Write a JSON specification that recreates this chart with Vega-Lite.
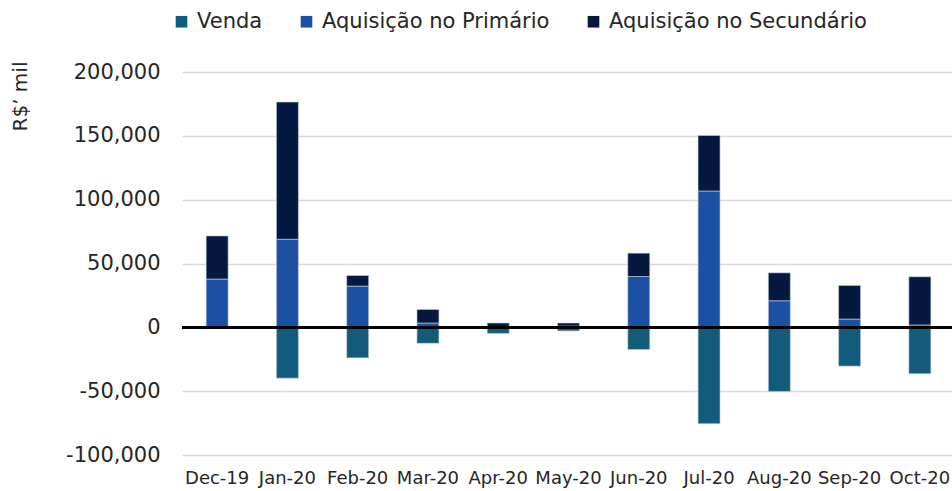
{
  "$schema": "https://vega.github.io/schema/vega-lite/v6.json",
  "width": 773,
  "height": 383,
  "autosize": {"type": "none"},
  "padding": {"left": 182, "top": 72, "right": 0, "bottom": 36},
  "config": {
    "view": {"stroke": null},
    "font": "DejaVu Sans"
  },
  "data": {
    "values": [
      {"mes": "Dec-19", "serie": "Venda", "valor": 0, "ord": 1},
      {"mes": "Dec-19", "serie": "Aquisição no Primário", "valor": 37800, "ord": 2},
      {"mes": "Dec-19", "serie": "Aquisição no Secundário", "valor": 33800, "ord": 3},
      {"mes": "Jan-20", "serie": "Venda", "valor": -39800, "ord": 1},
      {"mes": "Jan-20", "serie": "Aquisição no Primário", "valor": 69000, "ord": 2},
      {"mes": "Jan-20", "serie": "Aquisição no Secundário", "valor": 107500, "ord": 3},
      {"mes": "Feb-20", "serie": "Venda", "valor": -23900, "ord": 1},
      {"mes": "Feb-20", "serie": "Aquisição no Primário", "valor": 32300, "ord": 2},
      {"mes": "Feb-20", "serie": "Aquisição no Secundário", "valor": 8300, "ord": 3},
      {"mes": "Mar-20", "serie": "Venda", "valor": -12500, "ord": 1},
      {"mes": "Mar-20", "serie": "Aquisição no Primário", "valor": 3400, "ord": 2},
      {"mes": "Mar-20", "serie": "Aquisição no Secundário", "valor": 10600, "ord": 3},
      {"mes": "Apr-20", "serie": "Venda", "valor": -4800, "ord": 1},
      {"mes": "Apr-20", "serie": "Aquisição no Primário", "valor": 300, "ord": 2},
      {"mes": "Apr-20", "serie": "Aquisição no Secundário", "valor": 3100, "ord": 3},
      {"mes": "May-20", "serie": "Venda", "valor": -2800, "ord": 1},
      {"mes": "May-20", "serie": "Aquisição no Primário", "valor": 1000, "ord": 2},
      {"mes": "May-20", "serie": "Aquisição no Secundário", "valor": 2400, "ord": 3},
      {"mes": "Jun-20", "serie": "Venda", "valor": -17400, "ord": 1},
      {"mes": "Jun-20", "serie": "Aquisição no Primário", "valor": 39800, "ord": 2},
      {"mes": "Jun-20", "serie": "Aquisição no Secundário", "valor": 18300, "ord": 3},
      {"mes": "Jul-20", "serie": "Venda", "valor": -75500, "ord": 1},
      {"mes": "Jul-20", "serie": "Aquisição no Primário", "valor": 106800, "ord": 2},
      {"mes": "Jul-20", "serie": "Aquisição no Secundário", "valor": 43500, "ord": 3},
      {"mes": "Aug-20", "serie": "Venda", "valor": -50200, "ord": 1},
      {"mes": "Aug-20", "serie": "Aquisição no Primário", "valor": 20800, "ord": 2},
      {"mes": "Aug-20", "serie": "Aquisição no Secundário", "valor": 21900, "ord": 3},
      {"mes": "Sep-20", "serie": "Venda", "valor": -30400, "ord": 1},
      {"mes": "Sep-20", "serie": "Aquisição no Primário", "valor": 6500, "ord": 2},
      {"mes": "Sep-20", "serie": "Aquisição no Secundário", "valor": 26300, "ord": 3},
      {"mes": "Oct-20", "serie": "Venda", "valor": -36400, "ord": 1},
      {"mes": "Oct-20", "serie": "Aquisição no Primário", "valor": 1900, "ord": 2},
      {"mes": "Oct-20", "serie": "Aquisição no Secundário", "valor": 37700, "ord": 3}
    ]
  },
  "layer": [
    {
      "mark": {"type": "bar", "stroke": "#c9d3df", "strokeWidth": 0.6},
      "encoding": {
        "x": {
          "field": "mes",
          "type": "nominal",
          "sort": null,
          "scale": {"paddingInner": 0.687, "paddingOuter": 0.3435},
          "axis": {
            "title": null,
            "labelAngle": 0,
            "labelFontSize": 18,
            "labelColor": "#262626",
            "labelPadding": 14,
            "labelOverlap": false,
            "labelBound": false,
            "ticks": false,
            "domain": false,
            "grid": false
          }
        },
        "y": {
          "field": "valor",
          "type": "quantitative",
          "stack": "zero",
          "scale": {"domain": [-100000, 200000], "nice": false, "zero": false},
          "axis": {
            "title": "R$’ mil",
            "titleFontSize": 20,
            "titleFontWeight": "normal",
            "titleColor": "#262626",
            "titleAngle": -90,
            "titleX": -162,
            "titleY": 24,
            "titleAlign": "center",
            "titleBaseline": "middle",
            "values": [-100000, -50000, 0, 50000, 100000, 150000, 200000],
            "labelExpr": "replace(format(datum.value, ',.0f'), '−', '-')",
            "labelFontSize": 21,
            "labelColor": "#262626",
            "labelPadding": 22,
            "ticks": false,
            "domain": false,
            "grid": true,
            "gridColor": "#d9d9d9",
            "gridWidth": 1.5
          }
        },
        "color": {
          "field": "serie",
          "type": "nominal",
          "scale": {
            "domain": ["Venda", "Aquisição no Primário", "Aquisição no Secundário"],
            "range": ["#135b7a", "#1c50a3", "#051840"]
          },
          "legend": {
            "title": null,
            "orient": "none",
            "direction": "horizontal",
            "legendX": -11,
            "legendY": -61,
            "symbolType": "square",
            "symbolSize": 135,
            "symbolStrokeWidth": 0,
            "symbolOpacity": 1,
            "labelFontSize": 21,
            "labelLimit": 500,
            "labelColor": "#262626",
            "labelOffset": 5,
            "columnPadding": 33
          }
        },
        "order": {"field": "ord", "type": "quantitative"}
      }
    },
    {
      "mark": {"type": "rule", "color": "#000000", "strokeWidth": 2},
      "encoding": {"y": {"datum": 0}}
    }
  ]
}
